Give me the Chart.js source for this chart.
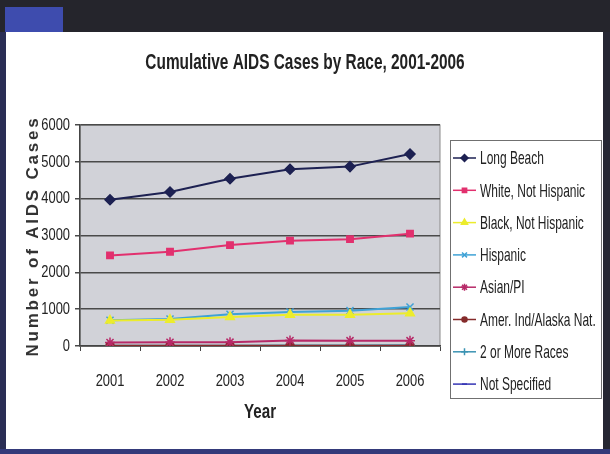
<!DOCTYPE html>
<html>
<head>
<meta charset="utf-8">
<script src="https://cdn.jsdelivr.net/npm/chart.js@4.4.1/dist/chart.umd.min.js"></script>
<style>
    html, body { margin: 0; padding: 0; }
    body { width: 610px; height: 454px; background: #262733; position: relative; overflow: hidden; }
    #topBar { position: absolute; left: 0; top: 0; width: 610px; height: 32px; background: #25252c; }
    #blueTab { position: absolute; left: 5px; top: 7px; width: 58px; height: 25px; background: #3e4cae; }
    #leftEdge { position: absolute; left: 0; top: 32px; width: 6px; height: 422px; background: #2a2e55; }
    #bottomEdge { position: absolute; left: 0; top: 449px; width: 610px; height: 5px; background: #343a7a; }
    #panel { position: absolute; left: 6px; top: 32px; width: 597px; height: 417px; background: #ffffff; }
    canvas { display: block; }
</style>
</head>
<body>
<div id="topBar"><div id="blueTab"></div></div>
<div id="leftEdge"></div>
<div id="bottomEdge"></div>
<div id="panel"><canvas id="aidsChart" width="597" height="417"></canvas></div>

<script>
    // Chart data
    const years = ["2001", "2002", "2003", "2004", "2005", "2006"];
    const longBeach = [3970, 4180, 4540, 4800, 4870, 5210];
    const whiteNotHispanic = [2460, 2560, 2740, 2860, 2900, 3050];
    const blackNotHispanic = [690, 710, 790, 850, 850, 890];
    const hispanic = [700, 730, 860, 920, 960, 1060];
    const asianPI = [95, 100, 105, 150, 145, 145];
    const amerIndAlaska = [10, 10, 10, 10, 10, 10];
    const twoOrMoreRaces = [5, 5, 10, 15, 15, 20];
    const notSpecified = [0, 0, 0, 0, 0, 0];
    const yTicks = [0, 1000, 2000, 3000, 4000, 5000, 6000];

    const chartTitle = "Cumulative AIDS Cases by Race, 2001-2006";
    const yTitle = "Number of AIDS Cases";
    const xTitle = "Year";

    const font = "'Liberation Sans', Arial, sans-serif";
    const defaultSqueeze = 0.76; // the original uses a narrow font

    function series(label, data, color, style, radius) {
        return {
            label: label,
            data: data,
            borderColor: color,
            backgroundColor: color,
            pointBorderColor: color,
            pointBackgroundColor: color,
            pointStyle: style,
            pointRadius: radius,
            pointBorderWidth: 1.5,
            borderWidth: 2,
            tension: 0
        };
    }

    const datasets = [
        series("Long Beach", longBeach, "#1d2152", "rectRot", 5),
        series("White, Not Hispanic", whiteNotHispanic, "#e2306e", "rect", 4.5),
        series("Black, Not Hispanic", blackNotHispanic, "#ecec2c", "triangle", 5),
        series("Hispanic", hispanic, "#3fa2d6", "crossRot", 5),
        series("Asian/PI", asianPI, "#b72a68", "star", 5),
        series("Amer. Ind/Alaska Nat.", amerIndAlaska, "#852b2b", "circle", 4),
        series("2 or More Races", twoOrMoreRaces, "#3b93b3", "cross", 5),
        series("Not Specified", notSpecified, "#3434b4", "line", 3)
    ];

    // Squeeze all text horizontally so it looks like the narrow font
    const narrowText = {
        id: "narrowText",
        beforeDraw(chart) {
            const ctx = chart.ctx;
            if (ctx.squeezed) return;
            const fillText = ctx.fillText.bind(ctx);
            ctx.squeeze = defaultSqueeze;
            ctx.fillText = function (text, x, y) {
                ctx.save();
                ctx.translate(x, y);
                ctx.scale(ctx.squeeze, 1);
                fillText(text, 0, 0);
                ctx.restore();
            };
            ctx.squeezed = true;
        }
    };

    // Grey plot background
    const plotBackground = {
        id: "plotBackground",
        beforeDraw(chart) {
            const a = chart.chartArea;
            const ctx = chart.ctx;
            ctx.save();
            ctx.fillStyle = "#d1d2d8";
            ctx.fillRect(a.left, a.top, a.right - a.left, a.bottom - a.top);
            ctx.strokeStyle = "#8a8a8a";
            ctx.lineWidth = 1;
            ctx.strokeRect(a.left, a.top, a.right - a.left, a.bottom - a.top);
            ctx.restore();
        }
    };

    // Title, spaced-out y axis title and the boxed legend
    const extras = {
        id: "extras",
        afterDraw(chart) {
            const ctx = chart.ctx;

            // chart title
            ctx.save();
            ctx.squeeze = 0.7;
            ctx.font = "bold 22px " + font;
            ctx.fillStyle = "#222222";
            ctx.textAlign = "center";
            ctx.textBaseline = "middle";
            ctx.fillText(chartTitle, 299, 31);
            ctx.restore();

            // y axis title
            ctx.save();
            ctx.squeeze = 1;
            ctx.translate(27, 204);
            ctx.rotate(-Math.PI / 2);
            ctx.font = "bold 17px " + font;
            ctx.fillStyle = "#333333";
            ctx.textAlign = "center";
            ctx.textBaseline = "middle";
            ctx.letterSpacing = "2.8px";
            ctx.fillText(yTitle, 0, 0);
            ctx.restore();

            // legend
            const left = 444, top = 108, width = 151, height = 258;
            ctx.save();
            ctx.strokeStyle = "#707070";
            ctx.lineWidth = 1;
            ctx.strokeRect(left + 0.5, top + 0.5, width, height);
            ctx.squeeze = 0.63;
            ctx.font = "19px " + font;
            ctx.textBaseline = "middle";
            ctx.textAlign = "left";
            chart.data.datasets.forEach(function (ds, i) {
                const y = top + 18 + i * 32.3;
                ctx.strokeStyle = ds.borderColor;
                ctx.lineWidth = 1.5;
                ctx.beginPath();
                ctx.moveTo(left + 3, y);
                ctx.lineTo(left + 26, y);
                ctx.stroke();
                ctx.fillStyle = ds.pointBackgroundColor;
                Chart.helpers.drawPoint(ctx, {
                    pointStyle: ds.pointStyle,
                    radius: Math.max(ds.pointRadius - 1.5, 2.5),
                    rotation: 0,
                    borderWidth: 1.5
                }, left + 14.5, y);
                ctx.fillStyle = "#222222";
                ctx.fillText(ds.label, left + 30, y + 1);
            });
            ctx.restore();
            ctx.squeeze = defaultSqueeze;
        }
    };

    new Chart(document.getElementById("aidsChart").getContext("2d"), {
        type: "line",
        data: { labels: years, datasets: datasets },
        options: {
            responsive: false,
            animation: false,
            layout: { padding: { left: 0, right: 163, top: 93, bottom: 0 } },
            plugins: {
                legend: { display: false },
                tooltip: { enabled: false },
                title: { display: false }
            },
            scales: {
                x: {
                    offset: true,
                    afterFit(scale) { scale.height = 103; },
                    grid: {
                        display: true,
                        drawOnChartArea: false,
                        offset: true,
                        tickLength: 5,
                        color: "#444444"
                    },
                    border: { color: "#444444", width: 1.5 },
                    ticks: {
                        color: "#222222",
                        padding: 20,
                        font: { family: font, size: 17 }
                    },
                    title: {
                        display: true,
                        text: xTitle,
                        color: "#222222",
                        font: { family: font, size: 20, weight: "bold" },
                        padding: { top: 9, bottom: 25 }
                    }
                },
                y: {
                    min: 0,
                    max: 6000,
                    afterFit(scale) { scale.width = 74; },
                    afterBuildTicks(scale) { scale.ticks = yTicks.map(v => ({ value: v })); },
                    grid: { color: "#4a4a4a", lineWidth: 1.5, tickLength: 5 },
                    border: { color: "#444444", width: 1.5 },
                    ticks: {
                        color: "#222222",
                        padding: 5,
                        font: { family: font, size: 17 },
                        callback: v => String(v)
                    }
                }
            }
        },
        plugins: [narrowText, plotBackground, extras]
    });
</script>
</body>
</html>
